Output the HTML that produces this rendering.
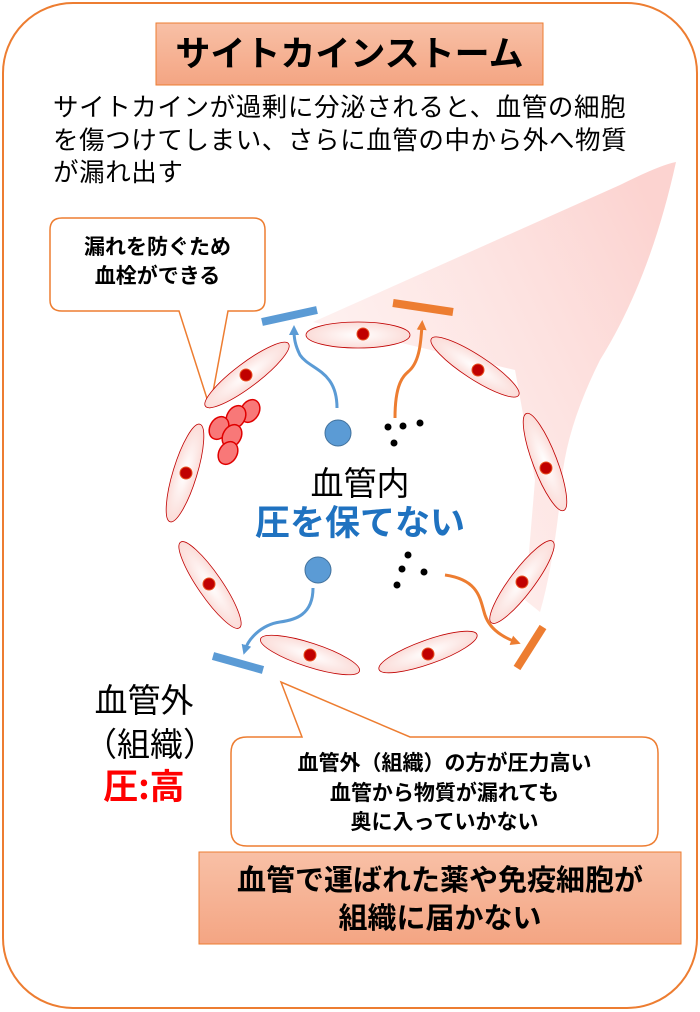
<!DOCTYPE html>
<html><head><meta charset="utf-8">
<style>
html,body{margin:0;padding:0;background:#fff;}
body{width:700px;height:1012px;position:relative;overflow:hidden;font-family:"Liberation Sans","Noto Sans CJK JP",sans-serif;}
.t{position:absolute;white-space:nowrap;}
.j{font-family:"Noto Sans CJK JP",sans-serif;}
</style></head><body>
<svg width="700" height="1012" style="position:absolute;left:0;top:0">
<defs>
<linearGradient id="beam" x1="1" y1="0.2" x2="0" y2="0.8">
<stop offset="0" stop-color="#fbc4c0" stop-opacity="0.75"/>
<stop offset="1" stop-color="#fde4e2" stop-opacity="0.35"/>
</linearGradient>
<radialGradient id="cell" cx="0.5" cy="0.5" r="0.5">
<stop offset="0" stop-color="#fff"/>
<stop offset="1" stop-color="#fbdcd8"/>
</radialGradient>
<linearGradient id="sal" x1="0" y1="0" x2="0" y2="1">
<stop offset="0" stop-color="#f8c0a6"/>
<stop offset="1" stop-color="#f4a583"/>
</linearGradient>
<marker id="ab" markerWidth="10" markerHeight="10" refX="5" refY="5" orient="auto" markerUnits="userSpaceOnUse" viewBox="0 0 10 10"><path d="M0,0 L10,5 L0,10z" fill="#5b9bd5"/></marker>
<marker id="ao" markerWidth="10" markerHeight="10" refX="5" refY="5" orient="auto" markerUnits="userSpaceOnUse" viewBox="0 0 10 10"><path d="M0,0 L10,5 L0,10z" fill="#ed7d31"/></marker>
</defs>
<rect x="3" y="3" width="694" height="1005" rx="70" fill="#fff" stroke="#ed7d31" stroke-width="2"/>
<path d="M313,322 L620,185 Q660,165 676,162 Q650,280 600,360 Q570,420 563,470 Q555,560 540,612 L525,600 L535,480 L515,370 Z" fill="url(#beam)"/>
<rect x="156" y="23" width="387" height="62" fill="url(#sal)" stroke="#ed7d31" stroke-width="1"/>
<path d="M62,218 H253 Q265,218 265,230 V300 Q265,311 253,311 H228 L210,408 L179,311 H62 Q50,311 50,300 V230 Q50,218 62,218 Z" fill="#fff" stroke="#ed7d31" stroke-width="1.5"/>
<g stroke="#c00000" stroke-width="0.8" fill="url(#cell)">
<ellipse cx="358" cy="335" rx="52" ry="13"/>
<ellipse cx="247" cy="375" rx="52" ry="12" transform="rotate(-37 247 375)"/>
<ellipse cx="185" cy="473" rx="51" ry="12" transform="rotate(-73 185 473)"/>
<ellipse cx="210" cy="585" rx="52" ry="12" transform="rotate(55.5 210 585)"/>
<ellipse cx="310" cy="655" rx="52" ry="12" transform="rotate(18 310 655)"/>
<ellipse cx="428" cy="652" rx="52" ry="12" transform="rotate(-19.6 428 652)"/>
<ellipse cx="522" cy="582" rx="51" ry="12" transform="rotate(-53 522 582)"/>
<ellipse cx="545" cy="462" rx="52" ry="12" transform="rotate(69 545 462)"/>
<ellipse cx="475" cy="367" rx="52" ry="12" transform="rotate(33 475 367)"/>
</g>
<g fill="#c00000" stroke="#e85020" stroke-width="1">
<circle cx="363" cy="334" r="6"/><circle cx="246" cy="375" r="6"/><circle cx="186" cy="473" r="6"/>
<circle cx="209" cy="584" r="6"/><circle cx="310" cy="655" r="6"/><circle cx="428" cy="654" r="6"/>
<circle cx="522" cy="582" r="6"/><circle cx="546" cy="468" r="6"/><circle cx="478" cy="370" r="6"/>
</g>
<g fill="#f87878" stroke="#e00000" stroke-width="1.5">
<ellipse cx="250" cy="411" rx="9" ry="12" transform="rotate(30 250 411)"/>
<ellipse cx="236" cy="417" rx="9" ry="12" transform="rotate(30 236 417)"/>
<ellipse cx="219" cy="428" rx="9" ry="12" transform="rotate(30 219 428)"/>
<ellipse cx="232" cy="436" rx="9" ry="12" transform="rotate(30 232 436)"/>
<ellipse cx="228" cy="453" rx="9" ry="12" transform="rotate(30 228 453)"/>
</g>
<g fill="none" stroke-width="3">
<path d="M337,408 C337,370 310,370 300,355 C295,345 294,338 294,330" stroke="#5b9bd5" marker-end="url(#ab)"/>
<path d="M395,418 C395,380 405,375 410,370 C420,360 421,340 422,325" stroke="#ed7d31" marker-end="url(#ao)"/>
<path d="M313,588 C313,615 295,620 280,622 C260,625 248,640 245,650" stroke="#5b9bd5" marker-end="url(#ab)"/>
<path d="M445,575 C480,580 480,600 485,615 C490,630 505,638 516,642" stroke="#ed7d31" marker-end="url(#ao)"/>
</g>
<g stroke-width="8">
<line x1="262" y1="322" x2="317" y2="310" stroke="#5b9bd5"/>
<line x1="393" y1="303" x2="453" y2="312" stroke="#ed7d31"/>
<line x1="213" y1="656" x2="263" y2="670" stroke="#5b9bd5"/>
<line x1="543" y1="627" x2="517" y2="668" stroke="#ed7d31"/>
</g>
<circle cx="338" cy="433" r="13" fill="#5b9bd5" stroke="#41719c" stroke-width="1"/>
<circle cx="318" cy="570" r="13" fill="#5b9bd5" stroke="#41719c" stroke-width="1"/>
<g fill="#000">
<circle cx="388" cy="427" r="3.5"/><circle cx="403" cy="426" r="3.5"/><circle cx="420" cy="423" r="3.5"/><circle cx="394" cy="443" r="3.5"/>
<circle cx="408" cy="555" r="3.5"/><circle cx="402" cy="569" r="3.5"/><circle cx="424" cy="572" r="3.5"/><circle cx="397" cy="585" r="3.5"/>
</g>
<path d="M247,737 H302 L281,682 L410,737 H642 Q658,737 658,753 V830 Q658,846 642,846 H247 Q231,846 231,830 V753 Q231,737 247,737 Z" fill="#fff" stroke="#ed7d31" stroke-width="1.5"/>
<rect x="199" y="852" width="482" height="92" fill="url(#sal)" stroke="#ed7d31" stroke-width="1"/>
</svg>
<div class="t j" style="left:156px;top:29px;width:387px;text-align:center;font-size:35px;font-weight:bold;line-height:46px">サイトカインストーム</div>
<div class="t j" style="left:53px;top:90px;font-size:25.5px;line-height:32.5px;letter-spacing:0.6px">サイトカインが過剰に分泌されると、血管の細胞<br>を傷つけてしまい、さらに血管の中から外へ物質<br>が漏れ出す</div>
<div class="t j" style="left:50px;top:232px;width:215px;text-align:center;font-size:21px;font-weight:bold;line-height:29px">漏れを防ぐため<br>血栓ができる</div>
<div class="t j" style="left:260px;top:461px;width:200px;text-align:center;font-size:33px;line-height:40px">血管内</div>
<div class="t j" style="left:230px;top:500px;width:260px;text-align:center;font-size:35px;font-weight:bold;color:#1f72c0;line-height:42px">圧を保てない</div>
<div class="t j" style="left:84px;top:676px;width:120px;text-align:center;font-size:33px;line-height:44px">血管外<br>（組織）</div>
<div class="t j" style="left:84px;top:763px;width:120px;text-align:center;font-size:35px;font-weight:bold;color:#f00;line-height:44px">圧:高</div>
<div class="t j" style="left:231px;top:748px;width:427px;text-align:center;font-size:21px;font-weight:bold;line-height:29.5px">血管外（組織）の方が圧力高い<br>血管から物質が漏れても<br>奥に入っていかない</div>
<div class="t j" style="left:199px;top:859px;width:482px;text-align:center;font-size:29px;font-weight:bold;line-height:38px">血管で運ばれた薬や免疫細胞が<br>組織に届かない</div>
</body></html>
